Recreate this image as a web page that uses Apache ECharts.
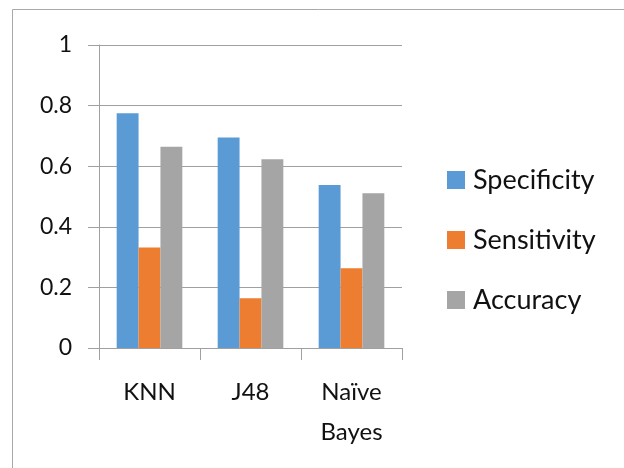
<!DOCTYPE html>
<html><head><meta charset="utf-8">
<script src="https://cdn.jsdelivr.net/npm/echarts@6/dist/echarts.min.js"></script>
<style>html,body{margin:0;padding:0;background:#fff}#c{width:624px;height:468px}</style>
</head><body><div id="c"></div>
<script>
const categories = ['KNN', 'J48', 'Naïve\nBayes'];
const specificity = [0.775, 0.695, 0.538];
const sensitivity = [0.332, 0.164, 0.263];
const accuracy = [0.664, 0.623, 0.511];
const seriesNames = ['Specificity', 'Sensitivity', 'Accuracy'];
const colors = ['#5B9BD5', '#ED7D31', '#A5A5A5'];
const font = 'Lato, "Open Sans", sans-serif';
const lineCol = '#a0a0a0';

const chart = echarts.init(document.getElementById('c'), null, {renderer: 'canvas'});
chart.setOption({
  animation: false,
  color: colors,
  grid: {left: 99, right: 222, top: 45, bottom: 120, containLabel: false},
  graphic: [{type: 'rect', shape: {x: 12.5, y: 9.5, width: 700, height: 600}, style: {fill: 'none', stroke: '#a8a8a8', lineWidth: 1}}],
  legend: {
    orient: 'vertical', left: 447, top: 165, padding: 0, itemWidth: 18, itemHeight: 18, itemGap: 30,
    icon: 'rect',
    textStyle: {fontFamily: font, fontSize: 27, color: '#111', lineHeight: 30, padding: [0, 0, 0, 3]},
    data: seriesNames
  },
  xAxis: {
    type: 'category', data: categories,
    axisLine: {lineStyle: {color: lineCol, width: 1}},
    axisTick: {show: true, length: 12, lineStyle: {color: lineCol}},
    axisLabel: {fontFamily: font, fontSize: 24, color: '#111', margin: 24, lineHeight: 40, verticalAlign: 'top'}
  },
  yAxis: {
    type: 'value', min: 0, max: 1, interval: 0.2,
    axisLine: {show: true, lineStyle: {color: lineCol, width: 1}},
    axisTick: {show: true, length: 11, lineStyle: {color: lineCol}},
    splitLine: {lineStyle: {color: lineCol, width: 1}},
    axisLabel: {fontFamily: font, fontSize: 23, color: '#111', margin: 27}
  },
  series: [
    {name: seriesNames[0], type: 'bar', data: specificity, barGap: '0%', barCategoryGap: '35%'},
    {name: seriesNames[1], type: 'bar', data: sensitivity, barGap: '0%', barCategoryGap: '35%'},
    {name: seriesNames[2], type: 'bar', data: accuracy, barGap: '0%', barCategoryGap: '35%'}
  ]
});
</script></body></html>
